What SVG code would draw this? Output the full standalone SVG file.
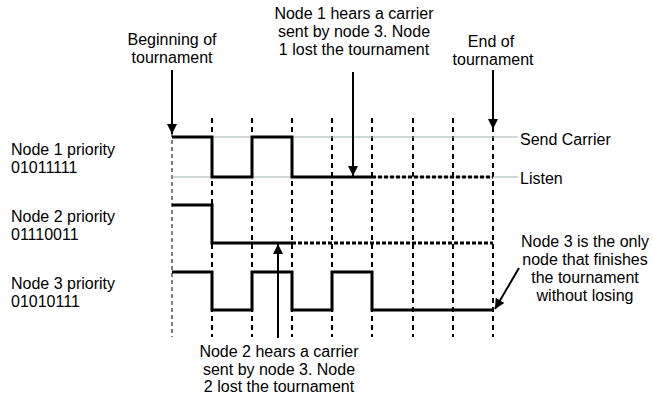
<svg xmlns="http://www.w3.org/2000/svg" width="653" height="394" viewBox="0 0 653 394">
  <defs>
    <marker id="arrow" markerUnits="userSpaceOnUse" markerWidth="10" markerHeight="12" viewBox="0 0 10 12" refX="10" refY="6" orient="auto">
      <path d="M0,1 L10,6 L0,11 Z" fill="#000"/>
    </marker>
    <style>
      text { font-family: "Liberation Sans", Arial, sans-serif; font-size: 16px; fill: #000; }
      .mid { text-anchor: middle; }
      .grid { stroke: #000; stroke-width: 2; stroke-dasharray: 5 4; fill: none; }
      .grid0 { stroke: #000; stroke-width: 1; stroke-dasharray: 4 3; fill: none; }
      .level { stroke: #9fb0b0; stroke-width: 1; fill: none; }
      .wave { stroke: #000; stroke-width: 3; fill: none; stroke-linejoin: miter; }
      .idle { stroke: #000; stroke-width: 3; stroke-dasharray: 4 2; fill: none; }
      .pointer { stroke: #000; stroke-width: 2; fill: none; marker-end: url(#arrow); }
    </style>
  </defs>

  <!-- time slot boundaries -->
  <g id="slots">
    <line class="grid0" x1="172" y1="133" x2="172" y2="337"/>
    <line class="grid" x1="212" y1="118" x2="212" y2="337"/>
    <line class="grid" x1="252" y1="118" x2="252" y2="337"/>
    <line class="grid" x1="292" y1="118" x2="292" y2="337"/>
    <line class="grid" x1="332" y1="118" x2="332" y2="337"/>
    <line class="grid" x1="372" y1="118" x2="372" y2="337"/>
    <line class="grid" x1="413" y1="118" x2="413" y2="337"/>
    <line class="grid" x1="453" y1="118" x2="453" y2="337"/>
    <line class="grid" x1="493" y1="118" x2="493" y2="337"/>
  </g>

  <!-- signal levels -->
  <g id="levels">
    <line class="level" x1="172" y1="137" x2="518" y2="137"/>
    <line class="level" x1="172" y1="177" x2="518" y2="177"/>
    <text x="520" y="145">Send Carrier</text>
    <text x="520" y="184">Listen</text>
  </g>

  <!-- node 1 -->
  <g id="node1">
    <text x="11" y="155">Node 1 priority</text>
    <text x="11" y="173">01011111</text>
    <path class="wave" d="M172,137 H212 V177 H252 V137 H292 V177 H372"/>
    <line class="idle" x1="372" y1="177" x2="493" y2="177"/>
  </g>

  <!-- node 2 -->
  <g id="node2">
    <text x="11" y="222">Node 2 priority</text>
    <text x="11" y="240">01110011</text>
    <path class="wave" d="M172,205 H212 V243 H292"/>
    <line class="idle" x1="292" y1="243" x2="493" y2="243"/>
  </g>

  <!-- node 3 -->
  <g id="node3">
    <text x="11" y="289">Node 3 priority</text>
    <text x="11" y="307">01010111</text>
    <path class="wave" d="M172,272 H212 V310 H252 V272 H292 V310 H332 V272 H372 V310 H493"/>
  </g>

  <!-- annotations -->
  <g id="note-begin">
    <text class="mid" x="172" y="45">Beginning of</text>
    <text class="mid" x="172" y="63">tournament</text>
  </g>
  <g id="note-end">
    <text class="mid" x="491" y="47">End of</text>
    <text class="mid" x="493" y="65">tournament</text>
  </g>
  <g id="note-node1">
    <text class="mid" x="354" y="19">Node 1 hears a carrier</text>
    <text class="mid" x="354" y="37">sent by node 3. Node</text>
    <text class="mid" x="354" y="55">1 lost the tournament</text>
  </g>
  <g id="note-node2">
    <text class="mid" x="279" y="357">Node 2 hears a carrier</text>
    <text class="mid" x="279" y="375">sent by node 3. Node</text>
    <text class="mid" x="279" y="392">2 lost the tournament</text>
  </g>
  <g id="note-node3">
    <text class="mid" x="585" y="247">Node 3 is the only</text>
    <text class="mid" x="585" y="265">node that finishes</text>
    <text class="mid" x="585" y="283">the tournament</text>
    <text class="mid" x="585" y="301">without losing</text>
  </g>

  <!-- connectors -->
  <g id="connectors">
    <line class="pointer" x1="172" y1="70" x2="172" y2="134"/>
    <line class="pointer" x1="493" y1="70" x2="493" y2="129"/>
    <line class="pointer" x1="353" y1="72" x2="353" y2="176"/>
    <line class="pointer" x1="278" y1="338" x2="278" y2="244"/>
    <line class="pointer" x1="519" y1="268" x2="495" y2="309"/>
  </g>
</svg>
